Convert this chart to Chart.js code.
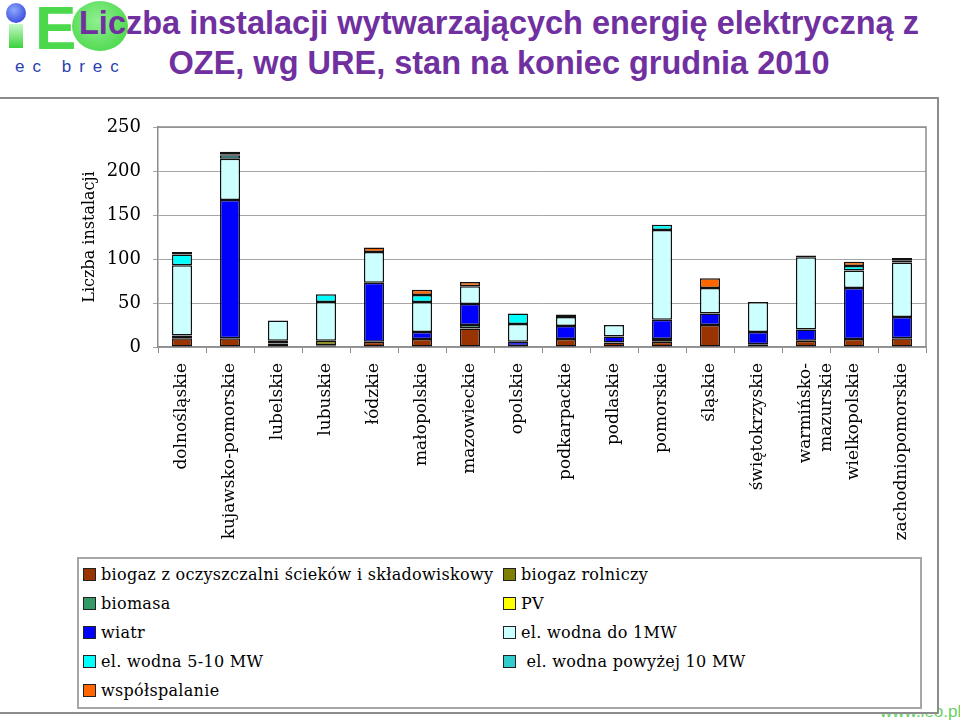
<!DOCTYPE html>
<html>
<head>
<meta charset="utf-8">
<script src="https://cdn.jsdelivr.net/npm/chart.js@4.4.1/dist/chart.umd.min.js"></script>
<style>
  body { margin: 0; width: 960px; height: 720px; position: relative; overflow: hidden; background: #fff; }
  #title { position: absolute; left: 40px; top: 3px; width: 918px; text-align: center; z-index: 3;
           font: bold 32.5px "Liberation Sans", Arial, sans-serif; line-height: 40px; color: #7030a0; }
  #frame { position: absolute; left: -5px; top: 97px; width: 940px; height: 613px; border: 2px solid #8c8c8c;
           background: #fff; z-index: 1; }
  #c { position: absolute; left: 0; top: 97px; z-index: 2; }
  #legend { position: absolute; left: 77px; top: 557px; width: 841px; height: 148px; border: 2px solid #a6a6a6;
            z-index: 2; font: 16px "DejaVu Serif", serif; letter-spacing: 0.3px; }
  .item { position: absolute; white-space: pre; height: 20px; line-height: 20px; }
  .sw { position: absolute; left: 0; top: 3px; width: 11px; height: 11px; border: 1px solid #222; }
  .item span { position: absolute; left: 18px; top: 0; }
  #www { position: absolute; left: 880px; top: 702px; font: 17px "Liberation Sans", Arial, sans-serif; color: #66d166; z-index: 0; }
  .logo { position: absolute; }
</style>
</head>
<body>
<div class="logo" style="left:6px;top:3px;width:20px;height:20px;border-radius:50%;background:radial-gradient(circle at 40% 35%, #8fa8ff, #2030d0);z-index:4"></div>
<div class="logo" style="left:9px;top:24px;width:14px;height:24px;background:linear-gradient(#c8f8c8,#3cd23c);"></div>
<div class="logo" style="left:35px;top:-8px;font:bold 62px 'Liberation Sans',Arial,sans-serif;color:#4bd94b;">E</div>
<div class="logo" style="left:72px;top:1px;width:56px;height:50px;border-radius:50%;background:radial-gradient(circle at 45% 40%, #8ff08f, #3cd23c);"></div>
<div class="logo" style="left:15px;top:57px;font:17px 'Liberation Sans',Arial,sans-serif;color:#2a3fb0;letter-spacing:8px;">ec brec</div>
<div id="title">Liczba instalacji wytwarzających energię elektryczną z<br>OZE, wg URE, stan na koniec grudnia 2010</div>
<div id="www">www.ieo.pl</div>
<div id="frame"></div>
<canvas id="c" width="937" height="458" style="width:937px;height:458px"></canvas>
<div id="legend"></div>
<script>
// regions (multi-line label as array)
const regions = ['dolnośląskie', 'kujawsko-pomorskie', 'lubelskie', 'lubuskie', 'łódzkie', 'małopolskie',
  'mazowieckie', 'opolskie', 'podkarpackie', 'podlaskie', 'pomorskie', 'śląskie', 'świętokrzyskie',
  ['warmińsko-', 'mazurskie'], 'wielkopolskie', 'zachodniopomorskie'];

// series values, one per region
const biogazOczyszczalnie = [10, 10, 4, 2, 6, 9, 21, 1, 9, 5, 6, 25, 3, 7, 9, 10];
const biogazRolniczy      = [0, 0, 3, 5, 0, 0, 0, 0, 0, 0, 3, 0, 0, 0, 0, 0];
const biomasa             = [0, 0, 0, 0, 0, 0, 4, 0, 0, 0, 0, 0, 0, 0, 0, 0];
const pv                  = [0, 0, 0, 0, 0, 0, 0, 0, 0, 0, 0, 0, 0, 0, 0, 0];
const wiatr               = [3, 157, 0, 0, 67, 8, 24, 5, 15, 7, 22, 13, 14, 13, 58, 24];
const wodnaDo1MW          = [80, 47, 23, 44, 35, 34, 20, 20, 10, 13, 102, 29, 34, 82, 20, 62];
const wodna5do10MW        = [12, 4, 0, 9, 0, 8, 0, 12, 0, 0, 6, 0, 0, 2, 5, 2];
const wodnaPow10MW        = [0, 1, 0, 0, 0, 0, 0, 0, 0, 0, 0, 0, 0, 0, 0, 0];
const wspolspalanie       = [3, 3, 0, 0, 5, 6, 5, 0, 3, 0, 0, 11, 0, 0, 5, 3];

const seriesNames = ['biogaz z oczyszczalni ścieków i składowiskowy', 'biogaz rolniczy', 'biomasa', 'PV',
  'wiatr', 'el. wodna do 1MW', 'el. wodna 5-10 MW', ' el. wodna powyżej 10 MW', 'współspalanie'];
const seriesValues = [biogazOczyszczalnie, biogazRolniczy, biomasa, pv, wiatr, wodnaDo1MW, wodna5do10MW,
  wodnaPow10MW, wspolspalanie];
const seriesColors = ['#993300', '#808000', '#339966', '#ffff00', '#0000ff', '#ccffff', '#00ffff', '#33cccc', '#ff6600'];

const yTicks = [0, 50, 100, 150, 200, 250];

const datasets = seriesNames.map((name, i) => ({
  label: name,
  data: seriesValues[i].map(v => v === 0 ? null : v),
  backgroundColor: seriesColors[i],
  borderColor: '#111',
  borderWidth: 1.5,
  borderSkipped: false,
  barPercentage: 0.42,
  categoryPercentage: 1
}));

// legend in two columns, row by row
const legend = document.getElementById('legend');
seriesNames.forEach((name, i) => {
  const item = document.createElement('div');
  item.className = 'item';
  item.style.left = (i % 2 === 0 ? 4 : 424) + 'px';
  item.style.top = (6 + Math.floor(i / 2) * 29) + 'px';
  item.innerHTML = '<div class="sw" style="background:' + seriesColors[i] + '"></div><span></span>';
  item.querySelector('span').textContent = name;
  legend.appendChild(item);
});

// gray border on top and right of plot area
const plotBorder = {
  id: 'plotBorder',
  afterDraw(chart) {
    const a = chart.chartArea, ctx = chart.ctx;
    ctx.save();
    ctx.strokeStyle = '#8c8c8c';
    ctx.lineWidth = 1.5;
    ctx.beginPath();
    ctx.moveTo(a.left, a.top);
    ctx.lineTo(a.right, a.top);
    ctx.lineTo(a.right, a.bottom);
    ctx.stroke();
    ctx.restore();
  }
};

const ctx = document.getElementById('c').getContext('2d');
const chart = new Chart(ctx, {
  type: 'bar',
  data: { labels: regions, datasets: datasets },
  plugins: [plotBorder],
  options: {
    responsive: false,
    animation: false,
    layout: { padding: { top: 30, right: 11, left: 0, bottom: 0 } },
    plugins: { legend: { display: false }, tooltip: { enabled: false } },
    scales: {
      x: {
        stacked: true,
        grid: { drawOnChartArea: false, tickLength: 6, color: '#8c8c8c', offset: true },
        border: { color: '#8c8c8c', width: 1.5 },
        ticks: { autoSkip: false, minRotation: 90, maxRotation: 90, padding: 10, color: '#000',
                 font: { family: 'DejaVu Serif', size: 17 } },
        afterFit: s => { s.height = 208; }
      },
      y: {
        stacked: true,
        min: 0, max: 250,
        afterBuildTicks: s => { s.ticks = yTicks.map(v => ({ value: v })); },
        grid: { color: '#a6a6a6', tickLength: 5 },
        border: { color: '#8c8c8c', width: 1.5 },
        ticks: { padding: 12, color: '#000', font: { family: 'DejaVu Serif', size: 18 } },
        title: { display: true, text: 'Liczba instalacji', color: '#000', padding: { top: 80 },
                 font: { family: 'DejaVu Serif', size: 16 } },
        afterFit: s => { s.width = 158; }
      }
    }
  }
});
</script>
</body>
</html>
